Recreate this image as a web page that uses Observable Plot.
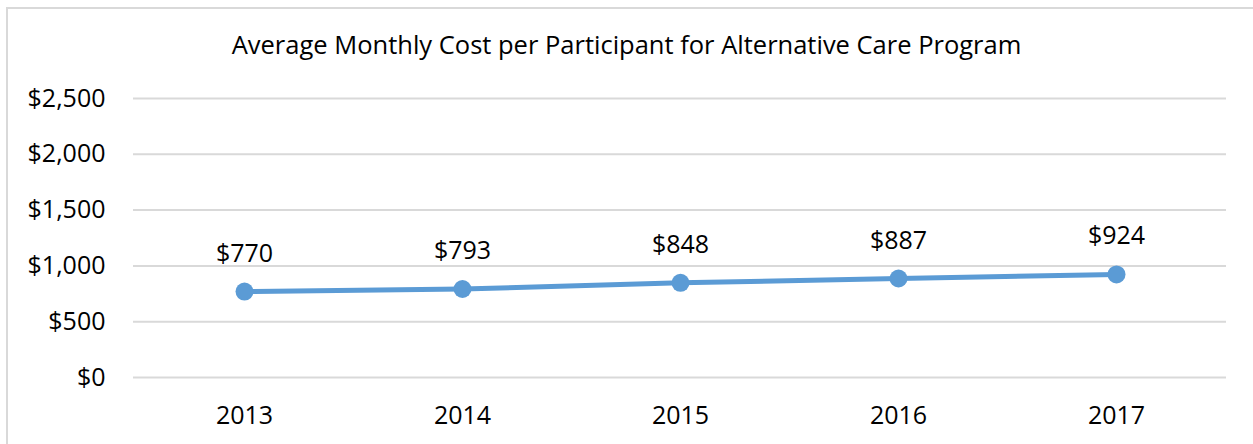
<!DOCTYPE html>
<html>
<head>
<meta charset="utf-8">
<script src="https://cdn.jsdelivr.net/npm/d3@7"></script>
<script src="https://cdn.jsdelivr.net/npm/@observablehq/plot@0.6"></script>
<style>
  html, body { margin: 0; padding: 0; background: #fff; }
  #wrap { position: relative; width: 1253px; height: 444px; overflow: hidden; font-family: "Open Sans", sans-serif; }
  #frame { position: absolute; left: 6px; top: 7px; width: 1300px; height: 500px; border-left: 2px solid #d9d9d9; border-top: 2px solid #d9d9d9; box-sizing: border-box; }
  #title { position: relative; height: 70px; line-height: 88px; text-align: center; font-size: 25.5px; color: #000; white-space: nowrap; }
  #chart { position: relative; }
</style>
</head>
<body>
<div id="wrap">
  <div id="frame"></div>
  <div id="title">Average Monthly Cost per Participant for Alternative Care Program</div>
  <div id="chart"></div>
</div>
<script>
const years = ["2013", "2014", "2015", "2016", "2017"];
const costs = [770, 793, 848, 887, 924];
const yTicks = [0, 500, 1000, 1500, 2000, 2500];

const data = years.map((y, i) => ({year: y, cost: costs[i]}));
const fmt = v => "$" + d3.format(",")(v);

const chart = Plot.plot({
  width: 1253,
  height: 374,
  marginLeft: 133,
  marginRight: 27,
  marginTop: 28,
  marginBottom: 67,
  style: {fontFamily: "Open Sans, sans-serif", fontSize: "25px", color: "#000", background: "transparent"},
  x: {type: "point", domain: years, padding: 0.5, label: null},
  y: {domain: [0, 2500], ticks: yTicks, label: null},
  marks: [
    Plot.gridY(yTicks, {stroke: "#d9d9d9", strokeOpacity: 1, strokeWidth: 2}),
    Plot.axisY(yTicks, {tickSize: 0, tickPadding: 28, tickFormat: fmt, fontSize: 25, fill: "#000"}),
    Plot.axisX({tickSize: 0, tickPadding: 29, fontSize: 25, fill: "#000"}),
    Plot.line(data, {x: "year", y: "cost", stroke: "#5b9bd5", strokeWidth: 5}),
    Plot.dot(data, {x: "year", y: "cost", r: 9, fill: "#5b9bd5", stroke: "none"}),
    Plot.text(data, {x: "year", y: "cost", text: d => fmt(d.cost), dy: -38, fontSize: 25, fill: "#000"})
  ]
});
document.getElementById("chart").appendChild(chart);
</script>
</body>
</html>
